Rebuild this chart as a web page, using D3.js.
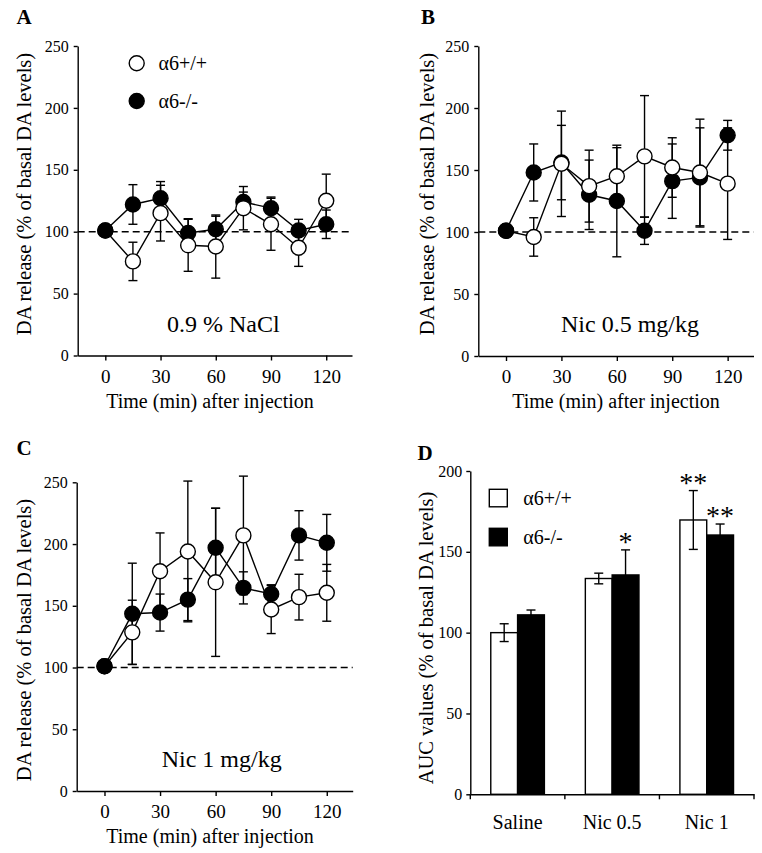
<!DOCTYPE html>
<html><head><meta charset="utf-8">
<script src="https://cdn.jsdelivr.net/npm/d3@7"></script>
<style>
body{margin:0;background:#fff}
svg{display:block}
text{font-family:"Liberation Serif","Times New Roman",serif;fill:#000}
</style>
</head><body>
<svg id="fig" width="762" height="853"></svg>
<script>
// ---------- data ----------
const times = [0, 15, 30, 45, 60, 75, 90, 105, 120];
const timeTicks = [0, 30, 60, 90, 120];
const daTicks = [0, 50, 100, 150, 200, 250];
const aucTicks = [0, 50, 100, 150, 200];
const genotypes = ["α6+/+", "α6-/-"];

// Panel A: 0.9 % NaCl
const salineWT    = [101, 76, 115, 89, 88, 119, 106, 87, 125];
const salineWTErr = [0, 15.5, 22.5, 21, 25.5, 17.5, 21, 15, 21.5];
const salineKO    = [101, 122, 127, 99, 102, 124, 119, 101, 106];
const salineKOErr = [0, 16, 13.5, 11.5, 10.5, 8, 9, 9, 11.5];

// Panel B: Nic 0.5 mg/kg
const nic05WT    = [101, 96, 155, 137, 145, 161, 152, 148, 139];
const nic05WTErr = [0, 15.5, 42.5, 29, 23, 49, 24, 43, 45];
const nic05KO    = [101, 148, 156, 130, 125, 101, 141, 144, 178];
const nic05KOErr = [0, 23, 30, 28, 45, 11, 30, 40, 12];

// Panel C: Nic 1 mg/kg
const nic1WT    = [101, 128.5, 178, 194, 169, 207, 147, 157, 160.5];
const nic1WTErr = [0, 26, 31, 57, 60, 48, 19.5, 18.5, 23];
const nic1KO    = [101, 143.5, 144.5, 155, 197, 164.5, 159.5, 207, 201];
const nic1KOErr = [0, 41, 15, 17, 32, 13, 7.5, 20, 23];

// Panel D: AUC
const aucGroups = ["Saline", "Nic 0.5", "Nic 1"];
const aucWT    = [100, 133.5, 169.7];
const aucWTErr = [5.5, 3.3, 18.2];
const aucKO    = [111, 135.7, 160.4];
const aucKOErr = [3, 15.5, 6.8];
const aucWTStars = ["", "", "**"];
const aucKOStars = ["", "*", "**"];

// ---------- drawing ----------
const svg = d3.select("#fig");
const SW = 1.4;

function styleAxis(a, fs) {
  a.attr("font-family", null).attr("font-size", null);
  a.selectAll("path,line").attr("stroke", "#000").attr("stroke-width", SW);
  a.selectAll("text").attr("font-size", fs).attr("fill", "#000");
}

function timePanel(o) {
  const x = d3.scaleLinear().domain([-15, 134]).range([o.x0, o.x1]);
  const y = d3.scaleLinear().domain([0, 250]).range([o.y0, o.y1]);
  const g = svg.append("g");

  const ya = g.append("g").attr("transform", `translate(${o.x0},0)`)
    .call(d3.axisLeft(y).tickValues(daTicks).tickSize(4).tickSizeOuter(0).tickPadding(5));
  styleAxis(ya, 16);
  const xa = g.append("g").attr("transform", `translate(0,${o.y0})`)
    .call(d3.axisBottom(x).tickValues(timeTicks).tickSize(5).tickSizeOuter(0).tickPadding(9));
  styleAxis(xa, 19);

  g.append("line").attr("x1", o.x0).attr("x2", o.x1)
    .attr("y1", y(100)).attr("y2", y(100))
    .attr("stroke", "#000").attr("stroke-width", SW).attr("stroke-dasharray", "7,4");

  const series = [
    {v: o.ko, e: o.koErr, fill: "#000"},
    {v: o.wt, e: o.wtErr, fill: "#fff"}
  ];

  // error bars
  series.forEach(s => {
    const pts = times.map((t, i) => ({t, v: s.v[i], e: s.e[i]})).filter(d => d.e > 0);
    const eb = g.append("g").attr("stroke", "#000").attr("stroke-width", SW);
    eb.selectAll("line.v").data(pts).join("line").attr("class", "v")
      .attr("x1", d => x(d.t)).attr("x2", d => x(d.t))
      .attr("y1", d => y(d.v - d.e)).attr("y2", d => y(d.v + d.e));
    eb.selectAll("line.lo").data(pts).join("line").attr("class", "lo")
      .attr("x1", d => x(d.t) - 4.5).attr("x2", d => x(d.t) + 4.5)
      .attr("y1", d => y(d.v - d.e)).attr("y2", d => y(d.v - d.e));
    eb.selectAll("line.hi").data(pts).join("line").attr("class", "hi")
      .attr("x1", d => x(d.t) - 4.5).attr("x2", d => x(d.t) + 4.5)
      .attr("y1", d => y(d.v + d.e)).attr("y2", d => y(d.v + d.e));
  });

  // lines
  const line = d3.line().x(d => x(d.t)).y(d => y(d.v));
  series.forEach(s => {
    g.append("path").datum(times.map((t, i) => ({t, v: s.v[i]})))
      .attr("d", line).attr("fill", "none").attr("stroke", "#000").attr("stroke-width", SW);
  });

  // markers: filled (after baseline), open, then baseline filled on top
  const drawMarkers = (s, idx) => {
    g.append("g").selectAll("circle")
      .data(idx.map(i => ({t: times[i], v: s.v[i]})))
      .join("circle")
      .attr("cx", d => x(d.t)).attr("cy", d => y(d.v)).attr("r", 7.5)
      .attr("fill", s.fill).attr("stroke", "#000").attr("stroke-width", SW);
  };
  const allIdx = times.map((t, i) => i);
  drawMarkers(series[0], allIdx.slice(1));
  drawMarkers(series[1], allIdx);
  drawMarkers(series[0], [0]);

  // texts
  g.append("text")
    .attr("transform", `translate(${o.ytx},${o.yty}) rotate(-90)`)
    .attr("x", 0).attr("y", 0).attr("dy", "0.35em")
    .attr("text-anchor", "middle").attr("font-size", 20.5)
    .text("DA release (% of basal DA levels)");
  g.append("text").attr("x", o.xtx).attr("y", o.y0 + 52)
    .attr("text-anchor", "middle").attr("font-size", 20)
    .text("Time (min) after injection");
  g.append("text").attr("x", o.ax).attr("y", o.ay)
    .attr("text-anchor", "middle").attr("font-size", 24).text(o.note);
  g.append("text").attr("x", o.lx).attr("y", o.ly)
    .attr("font-size", 21).attr("font-weight", "bold").text(o.label);
  return {x, y, g};
}

// Panel A
const pA = timePanel({x0: 77.7, x1: 352, y0: 355.5, y1: 46,
  wt: salineWT, wtErr: salineWTErr, ko: salineKO, koErr: salineKOErr,
  ytx: 24, yty: 194, xtx: 210, ax: 223.3, ay: 331.5, note: "0.9 % NaCl",
  lx: 16.5, ly: 24, label: "A"});

// legend in A (open = α6+/+, filled = α6-/-)
["#fff", "#000"].forEach((fill, j) => {
  const cy = 63.3 + j * 37.7;
  pA.g.append("circle").attr("cx", 136.7).attr("cy", cy).attr("r", 7.5)
    .attr("fill", fill).attr("stroke", "#000").attr("stroke-width", SW);
  pA.g.append("text").attr("x", 158.5).attr("y", cy).attr("dy", "0.35em")
    .attr("font-size", 20).text(genotypes[j]);
});

// Panel B
timePanel({x0: 478.3, x1: 753.5, y0: 356, y1: 46,
  wt: nic05WT, wtErr: nic05WTErr, ko: nic05KO, koErr: nic05KOErr,
  ytx: 427, yty: 194, xtx: 616, ax: 630, ay: 331.5, note: "Nic 0.5 mg/kg",
  lx: 421, ly: 24, label: "B"});

// Panel C
timePanel({x0: 76.7, x1: 352.7, y0: 791, y1: 482.3,
  wt: nic1WT, wtErr: nic1WTErr, ko: nic1KO, koErr: nic1KOErr,
  ytx: 23.5, yty: 640, xtx: 210, ax: 221.7, ay: 766.5, note: "Nic 1 mg/kg",
  lx: 16.5, ly: 455, label: "C"});

// Panel D
(function () {
  const x0 = 470.3, x1 = 754, y0 = 794.3, y1 = 471;
  const x = d3.scaleBand().domain(aucGroups).range([x0, x1]).padding(0);
  const bw = x.bandwidth();
  const sub = d3.scaleBand().domain([0, 1]).range([0.2165 * bw, 0.7835 * bw]).padding(0);
  const y = d3.scaleLinear().domain([0, 200]).range([y0, y1]);
  const g = svg.append("g");

  const ya = g.append("g").attr("transform", `translate(${x0},0)`)
    .call(d3.axisLeft(y).tickValues(aucTicks).tickSize(4).tickSizeOuter(0).tickPadding(4));
  styleAxis(ya, 16);
  const xa = g.append("g").attr("transform", `translate(0,${y0})`)
    .call(d3.axisBottom(x).tickSize(0).tickSizeOuter(0).tickPadding(21));
  styleAxis(xa, 20);
  const bounds = aucGroups.map(c => x(c)).concat([x1]);
  g.append("g").selectAll("line").data(bounds).join("line")
    .attr("x1", d => d).attr("x2", d => d).attr("y1", y0).attr("y2", y0 + 5)
    .attr("stroke", "#000").attr("stroke-width", SW);

  const sets = [
    {v: aucWT, e: aucWTErr, s: aucWTStars, fill: "#fff", k: 0},
    {v: aucKO, e: aucKOErr, s: aucKOStars, fill: "#000", k: 1}
  ];
  sets.forEach(st => {
    const d = aucGroups.map((c, i) => ({c, v: st.v[i], e: st.e[i], s: st.s[i]}));
    g.append("g").selectAll("rect").data(d).join("rect")
      .attr("x", q => x(q.c) + sub(st.k)).attr("width", sub.bandwidth())
      .attr("y", q => y(q.v)).attr("height", q => y0 - y(q.v))
      .attr("fill", st.fill).attr("stroke", "#000").attr("stroke-width", SW);
  });
  sets.forEach(st => {
    const d = aucGroups.map((c, i) => ({c, v: st.v[i], e: st.e[i], s: st.s[i]}));
    const cx = q => x(q.c) + sub(st.k) + sub.bandwidth() / 2;
    const eb = g.append("g").attr("stroke", "#000").attr("stroke-width", SW);
    eb.selectAll("line.v").data(d).join("line").attr("class", "v")
      .attr("x1", cx).attr("x2", cx).attr("y1", q => y(q.v - q.e)).attr("y2", q => y(q.v + q.e));
    eb.selectAll("line.hi").data(d).join("line").attr("class", "hi")
      .attr("x1", q => cx(q) - 4.5).attr("x2", q => cx(q) + 4.5)
      .attr("y1", q => y(q.v + q.e)).attr("y2", q => y(q.v + q.e));
    eb.selectAll("line.lo").data(d).join("line").attr("class", "lo")
      .attr("x1", q => cx(q) - 4.5).attr("x2", q => cx(q) + 4.5)
      .attr("y1", q => y(q.v - q.e)).attr("y2", q => y(q.v - q.e));
    g.append("g").selectAll("text").data(d.filter(q => q.s)).join("text")
      .attr("x", cx).attr("y", q => y(q.v + q.e) + 1)
      .attr("text-anchor", "middle").attr("font-size", 28).text(q => q.s);
  });

  // legend
  [0, 1].forEach(j => {
    const ty = 489.3 + j * 39;
    g.append("rect").attr("x", 489.3).attr("y", ty).attr("width", 18).attr("height", 17.5)
      .attr("fill", j === 0 ? "#fff" : "#000").attr("stroke", "#000").attr("stroke-width", SW);
    g.append("text").attr("x", 523.3).attr("y", ty + 8.5).attr("dy", "0.35em")
      .attr("font-size", 20).text(genotypes[j]);
  });

  g.append("text").attr("transform", "translate(426,638) rotate(-90)")
    .attr("dy", "0.35em").attr("text-anchor", "middle").attr("font-size", 20.5)
    .text("AUC values (% of basal DA levels)");
  g.append("text").attr("x", 417.5).attr("y", 460)
    .attr("font-size", 21).attr("font-weight", "bold").text("D");
})();
</script>
</body></html>
